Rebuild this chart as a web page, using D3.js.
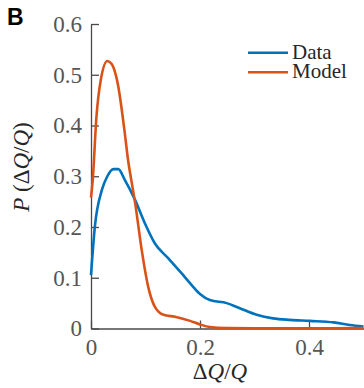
<!DOCTYPE html>
<html>
<head>
<meta charset="utf-8">
<script src="https://cdn.jsdelivr.net/npm/d3@7"></script>
<style>
  body { margin: 0; background: #fff; }
  svg { display: block; }
  .axis path, .axis line { stroke: #4a4a4a; stroke-width: 1.3; }
  .axis text { font-family: "Liberation Serif", serif; font-size: 23px; fill: #555; }
</style>
</head>
<body>
<svg id="chart"></svg>
<script>
// series values
const dataDQ = [0, 0.007, 0.02, 0.03, 0.041, 0.05, 0.062, 0.081, 0.099, 0.117, 0.142, 0.166,
  0.182, 0.2, 0.218, 0.249, 0.273, 0.304, 0.334, 0.365, 0.402, 0.445, 0.475, 0.5];
const dataP = [0.105, 0.2, 0.273, 0.3, 0.314, 0.314, 0.293, 0.253, 0.207, 0.168, 0.138, 0.109,
  0.089, 0.068, 0.056, 0.05, 0.04, 0.027, 0.02, 0.017, 0.015, 0.012, 0.007, 0.004];

const modelDQ = [0, 0.003, 0.01, 0.018, 0.03, 0.038, 0.049, 0.062, 0.068, 0.075, 0.081, 0.093,
  0.105, 0.117, 0.133, 0.154, 0.182, 0.2, 0.218, 0.25, 0.3, 0.4, 0.5];
const modelP = [0.258, 0.29, 0.417, 0.49, 0.527, 0.521, 0.483, 0.385, 0.332, 0.286, 0.247, 0.155,
  0.082, 0.043, 0.027, 0.023, 0.015, 0.008, 0.003, 0.001, 0.0005, 0.0005, 0.001];

const xTicks = [0, 0.2, 0.4];
const yTicks = [0, 0.1, 0.2, 0.3, 0.4, 0.5, 0.6];
const seriesNames = ['Data', 'Model'];
const seriesColors = ['#0072BD', '#D95319'];

const width = 364, height = 388;
const margin = {top: 24, right: 0.5, bottom: 59.5, left: 91};
const innerW = width - margin.left - margin.right;
const innerH = height - margin.top - margin.bottom;

const svg = d3.select('#chart')
    .attr('width', width)
    .attr('height', height);

const chart = svg.append('g')
    .attr('transform', `translate(${margin.left},${margin.top})`);

const xScale = d3.scaleLinear().domain([0, 0.5]).range([0, innerW]);
const yScale = d3.scaleLinear().domain([0, 0.6]).range([innerH, 0]);

// axes, ticks point inward
const xAxis = d3.axisBottom(xScale)
    .tickValues(xTicks)
    .tickSizeInner(-8)
    .tickSizeOuter(0)
    .tickPadding(10)
    .tickFormat(d => d === 0 ? '0' : d3.format('.1f')(d));

const yAxis = d3.axisLeft(yScale)
    .tickValues(yTicks)
    .tickSizeInner(-8)
    .tickSizeOuter(0)
    .tickPadding(9)
    .tickFormat(d => d === 0 ? '0' : d3.format('.1f')(d));

const series = [
  {name: seriesNames[0], color: seriesColors[0], pts: dataDQ.map((x, i) => [x, dataP[i]])},
  {name: seriesNames[1], color: seriesColors[1], pts: modelDQ.map((x, i) => [x, modelP[i]])}
];

const line = d3.line()
    .x(d => xScale(d[0]))
    .y(d => yScale(d[1]))
    .curve(d3.curveMonotoneX);

chart.append('g')
    .attr('class', 'axis x-axis')
    .attr('transform', `translate(0,${innerH})`)
    .call(xAxis);

chart.append('g')
    .attr('class', 'axis y-axis')
    .call(yAxis);

chart.selectAll('.series')
    .data(series)
    .join('path')
    .attr('class', 'series')
    .attr('fill', 'none')
    .attr('stroke', d => d.color)
    .attr('stroke-width', 2.6)
    .attr('stroke-linejoin', 'round')
    .attr('d', d => line(d.pts));

// legend
const legend = svg.append('g').attr('transform', 'translate(248,52.7)');
const items = legend.selectAll('g')
    .data(series)
    .join('g')
    .attr('transform', (d, i) => `translate(0,${i * 19.6})`);
items.append('line')
    .attr('x1', 0).attr('x2', 40)
    .attr('stroke', d => d.color)
    .attr('stroke-width', 2.6);
items.append('text')
    .attr('x', 44)
    .attr('y', 6)
    .attr('font-family', '"Liberation Serif", serif')
    .attr('font-size', 21)
    .attr('fill', '#262626')
    .text(d => d.name);

// axis labels
const ylab = svg.append('text')
    .attr('transform', 'translate(29,167) rotate(-90)')
    .attr('text-anchor', 'middle')
    .attr('font-family', '"Liberation Serif", serif')
    .attr('font-size', 23)
    .attr('fill', '#262626');
ylab.append('tspan').attr('font-style', 'italic').text('P');
ylab.append('tspan').text(' (Δ');
ylab.append('tspan').attr('font-style', 'italic').text('Q');
ylab.append('tspan').text('/');
ylab.append('tspan').attr('font-style', 'italic').text('Q');
ylab.append('tspan').text(')');

const xlab = svg.append('text')
    .attr('x', 220)
    .attr('y', 379)
    .attr('text-anchor', 'middle')
    .attr('font-family', '"Liberation Serif", serif')
    .attr('font-size', 23)
    .attr('fill', '#262626');
xlab.append('tspan').text('Δ');
xlab.append('tspan').attr('font-style', 'italic').text('Q');
xlab.append('tspan').text('/');
xlab.append('tspan').attr('font-style', 'italic').text('Q');

// panel letter
svg.append('text')
    .attr('x', 7)
    .attr('y', 25)
    .attr('font-family', '"Liberation Sans", Arial, sans-serif')
    .attr('font-weight', 'bold')
    .attr('font-size', 23)
    .attr('fill', '#000')
    .text('B');
</script>
</body>
</html>
